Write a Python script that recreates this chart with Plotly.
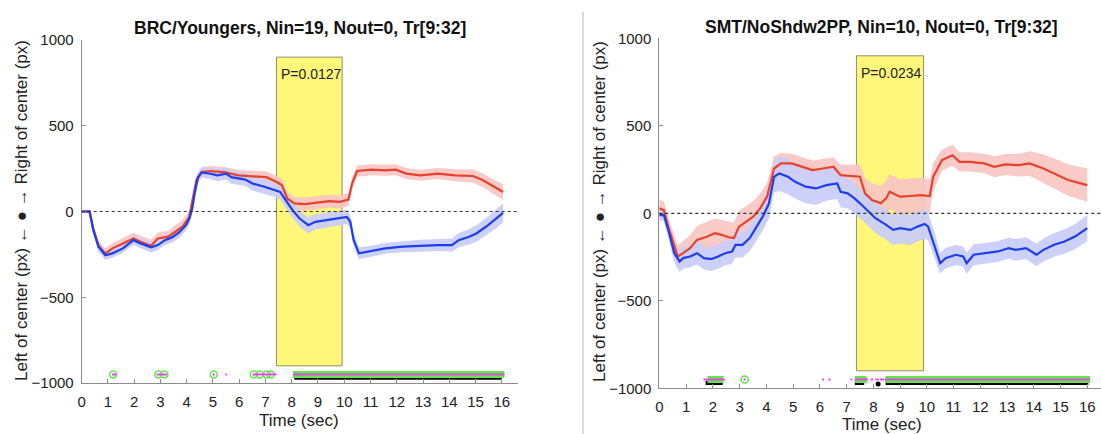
import plotly.graph_objects as go

# ------------------------------------------------------------------ data
# Left panel: BRC/Youngers
t_left_blue = [0, 0.3, 0.44, 0.64, 0.9, 1.17, 1.57, 1.97, 2.24, 2.64,
               2.9, 3.17, 3.44, 3.7, 3.97, 4.1, 4.21, 4.3, 4.43, 4.57,
               4.9, 5.17, 5.5, 5.7, 6.23, 6.5, 6.9, 7.3, 7.56, 7.77,
               8.03, 8.3, 8.63, 8.9, 9.3, 9.7, 10.1, 10.23, 10.36, 10.56,
               10.9, 11.56, 12.23, 12.9, 13.56, 14.1, 14.36, 14.76, 15.03, 15.4,
               15.8, 16.05]
v_left_blue = [0, 0, -108, -205, -255, -244, -215, -167, -186, -209,
               -196, -167, -151, -124, -80, -41, 17, 105, 200, 228,
               220, 211, 221, 200, 186, 163, 147, 128, 114, 66,
               8, -41, -80, -60, -50, -41, -31, -60, -167, -244,
               -234, -215, -205, -200, -196, -196, -167, -147, -128, -89,
               -41, -8]
e_left_blue = [8, 10, 25, 28, 28, 25, 25, 28, 28, 30,
               30, 28, 30, 32, 32, 32, 30, 30, 28, 28,
               32, 35, 35, 38, 38, 40, 40, 40, 42, 45,
               45, 48, 48, 45, 45, 45, 42, 40, 38, 35,
               32, 32, 32, 35, 35, 38, 42, 45, 48, 50,
               55, 55]

t_left_red = [0, 0.3, 0.44, 0.64, 0.9, 1.17, 1.57, 1.97, 2.24, 2.64,
              2.9, 3.3, 3.57, 3.84, 4.1, 4.23, 4.37, 4.57, 4.9, 5.43,
              5.97, 6.5, 7.03, 7.43, 7.63, 7.83, 8.1, 8.5, 8.9, 9.43,
              9.83, 10.16, 10.3, 10.49, 11.03, 11.56, 11.96, 12.36, 12.9, 13.56,
              14.23, 14.9, 15.29, 15.7, 16.05]
v_left_red = [0, 0, -100, -200, -245, -215, -186, -157, -176, -200,
              -157, -147, -118, -89, -31, 66, 182, 230, 236, 230,
              211, 205, 200, 172, 153, 76, 47, 43, 50, 60,
              56, 70, 163, 236, 244, 240, 244, 221, 211, 221,
              211, 207, 182, 143, 114]
e_left_red = [8, 10, 25, 30, 30, 30, 32, 35, 35, 35,
              35, 35, 38, 40, 38, 35, 32, 30, 30, 30,
              32, 32, 35, 35, 35, 38, 38, 38, 38, 38,
              38, 38, 35, 32, 32, 32, 32, 32, 32, 32,
              35, 38, 40, 42, 45]

# Right panel: SMT/NoShdw2PP
t_right_blue = [0, 0.17, 0.37, 0.56, 0.76, 0.89, 1.15, 1.41, 1.67, 1.94,
                2.2, 2.46, 2.72, 2.85, 3.11, 3.38, 3.64, 3.9, 4.1, 4.29,
                4.49, 4.81, 5.08, 5.47, 5.86, 6.25, 6.65, 6.78, 7.04, 7.3,
                7.5, 7.82, 8.08, 8.48, 8.74, 9.0, 9.39, 9.65, 9.92, 10.05,
                10.31, 10.5, 10.7, 11.09, 11.36, 11.49, 11.75, 12.27, 12.66, 13.06,
                13.32, 13.71, 14.1, 14.36, 14.76, 15.15, 15.54, 16.0]
v_right_blue = [-10, -10, -114, -228, -275, -256, -247, -228, -256, -262,
                -247, -228, -218, -180, -180, -142, -76, -10, 57, 209,
                228, 209, 180, 152, 142, 161, 171, 123, 114, 85,
                57, 9, -28, -66, -95, -85, -95, -76, -61, -76,
                -190, -285, -256, -237, -247, -285, -237, -228, -218, -199,
                -209, -199, -237, -209, -180, -161, -133, -85]
e_right_blue = [30, 35, 45, 55, 60, 60, 62, 65, 65, 68,
                70, 70, 70, 72, 72, 75, 78, 80, 85, 90,
                100, 100, 95, 95, 95, 90, 90, 90, 85, 85,
                85, 85, 85, 85, 88, 88, 88, 85, 85, 80,
                70, 60, 58, 58, 58, 60, 60, 60, 60, 60,
                62, 62, 65, 65, 68, 70, 72, 75]

t_right_red = [0, 0.17, 0.37, 0.56, 0.69, 0.89, 1.15, 1.41, 1.8, 2.07,
               2.33, 2.59, 2.79, 2.98, 3.24, 3.51, 3.77, 4.03, 4.29, 4.55,
               4.95, 5.34, 5.73, 6.12, 6.51, 6.78, 7.17, 7.5, 7.69, 7.95,
               8.28, 8.48, 8.61, 9.0, 9.39, 9.79, 10.11, 10.24, 10.57, 10.96,
               11.22, 11.62, 12.14, 12.53, 12.93, 13.45, 13.84, 14.36, 14.76, 15.28,
               16.0]
v_right_red = [28, 19, -95, -190, -247, -228, -199, -152, -133, -114,
               -123, -137, -142, -76, -47, -19, 28, 95, 256, 285,
               285, 266, 247, 256, 266, 218, 213, 209, 114, 76,
               57, 85, 123, 95, 99, 104, 99, 209, 304, 332,
               294, 294, 285, 266, 279, 275, 285, 256, 228, 190,
               161]
e_right_red = [50, 50, 55, 60, 65, 70, 75, 80, 85, 85,
               85, 90, 90, 90, 90, 88, 85, 80, 70, 60,
               55, 55, 55, 55, 55, 60, 65, 70, 85, 95,
               100, 100, 100, 100, 100, 100, 95, 80, 60, 60,
               55, 55, 55, 60, 60, 65, 70, 80, 85, 90,
               95]

# significance markers (seconds)
left_green_circles = [1.2, 2.92, 3.15, 5.03, 6.55, 6.78, 7.05, 7.2]
left_green_runs = [(8.05, 16.1)]
left_magenta_runs = [(1.15, 1.32), (2.85, 3.25), (4.98, 5.07), (5.47, 5.53),
                     (6.5, 7.42), (8.05, 16.1)]
left_black_runs = [(8.1, 16.0)]
left_black_dots = []

right_green_circles = [3.19]
right_green_runs = [(1.8, 2.4), (7.32, 7.75), (8.45, 16.1)]
right_magenta_runs = [(1.65, 2.45), (3.15, 3.23), (6.09, 6.16), (6.33, 6.4),
                      (7.15, 7.21), (7.3, 7.8), (7.9, 8.0), (8.08, 8.2),
                      (8.25, 8.4), (8.43, 16.1)]
right_black_runs = [(1.73, 2.37), (7.31, 7.66), (8.46, 16.04)]
right_black_dots = [8.18]

# stimulus windows and statistics
left_window = (7.42, 9.92)
right_window = (7.37, 9.88)
window_y = (-900, 900)
left_p = "P=0.0127"
right_p = "P=0.0234"
left_title = "BRC/Youngers, Nin=19, Nout=0, Tr[9:32]"
right_title = "SMT/NoShdw2PP, Nin=10, Nout=0, Tr[9:32]"
x_ticks = list(range(0, 17))
y_ticks = [-1000, -500, 0, 500, 1000]
marker_level = -950
black_level = -970

# ------------------------------------------------------------------ style
RED = "#E8412C"
BLUE = "#1D3DF0"
RED_BAND = "#F7C5C3"
BLUE_BAND = "#C9CDF9"
GREEN = "#5EE84A"
MAGENTA = "#F040F0"
FONT = "Liberation Sans, Arial, Helvetica, sans-serif"

W, H = 1101, 434

fig = go.Figure()


def band(t, v, e, color, xa, ya):
    xs = list(t) + list(t)[::-1]
    ys = [a + b for a, b in zip(v, e)] + [a - b for a, b in zip(v, e)][::-1]
    fig.add_trace(go.Scatter(x=xs, y=ys, fill="toself", fillcolor=color,
                             line=dict(width=0), mode="lines", hoverinfo="skip",
                             opacity=0.92, xaxis=xa, yaxis=ya))


def line(t, v, color, xa, ya):
    fig.add_trace(go.Scatter(x=t, y=v, mode="lines",
                             line=dict(color=color, width=2.2),
                             xaxis=xa, yaxis=ya))


def runs(rs, level, color, width, xa, ya):
    xs, ys = [], []
    for a, b in rs:
        xs += [a, b, None]
        ys += [level, level, None]
    if xs:
        fig.add_trace(go.Scatter(x=xs, y=ys, mode="lines",
                                 line=dict(color=color, width=width),
                                 xaxis=xa, yaxis=ya))


def panel(tb, vb, eb, tr, vr, er, circles, gruns, mruns, bruns, bdots, xa, ya):
    band(tr, vr, er, RED_BAND, xa, ya)
    band(tb, vb, eb, BLUE_BAND, xa, ya)
    line(tr, vr, RED, xa, ya)
    line(tb, vb, BLUE, xa, ya)
    runs(bruns, black_level, "#000000", 4, xa, ya)
    if bdots:
        fig.add_trace(go.Scatter(x=bdots, y=[black_level - 5] * len(bdots), mode="markers",
                                 marker=dict(color="#000000", size=5),
                                 xaxis=xa, yaxis=ya))
    runs(gruns, marker_level, GREEN, 7, xa, ya)
    if circles:
        fig.add_trace(go.Scatter(x=circles, y=[marker_level] * len(circles), mode="markers",
                                 marker=dict(symbol="circle-open", size=7, color=GREEN,
                                             line=dict(width=1.5, color=GREEN)),
                                 xaxis=xa, yaxis=ya))
    runs(mruns, marker_level, MAGENTA, 2, xa, ya)


panel(t_left_blue, v_left_blue, e_left_blue, t_left_red, v_left_red, e_left_red,
      left_green_circles, left_green_runs, left_magenta_runs, left_black_runs,
      left_black_dots, "x", "y")
panel(t_right_blue, v_right_blue, e_right_blue, t_right_red, v_right_red, e_right_red,
      right_green_circles, right_green_runs, right_magenta_runs, right_black_runs,
      right_black_dots, "x2", "y2")

# geometry in pixels
L_x0, L_x1, L_ytop, L_ybot = 81.7, 518.3, 40.0, 383.0
R_x0, R_ytop, R_ybot = 659.3, 38.3, 388.3
sec_px_R = 26.75

axis_common = dict(showline=True, linecolor="#8c8c8c", linewidth=1, ticks="inside",
                   ticklen=4, tickcolor="#8c8c8c", showgrid=False, zeroline=False,
                   tickfont=dict(family=FONT, size=15, color="#222222"), mirror=False,
                   automargin=False)

fig.update_layout(
    template="none",
    width=W, height=H, margin=dict(l=0, r=0, t=0, b=0, pad=0), autosize=False,
    paper_bgcolor="white", plot_bgcolor="white", showlegend=False,
    font=dict(family=FONT),
    xaxis=dict(domain=[L_x0 / W, L_x1 / W], range=[0, 16.63], tickvals=x_ticks,
               anchor="y", ticklabelstandoff=5, **axis_common),
    yaxis=dict(domain=[1 - L_ybot / H, 1 - L_ytop / H], range=[-1000, 1000],
               tickvals=y_ticks, anchor="x", ticklabelstandoff=4, **axis_common),
    xaxis2=dict(domain=[R_x0 / W, 1.0], range=[0, (W - R_x0) / sec_px_R], tickvals=x_ticks,
                anchor="y2", ticklabelstandoff=5, **axis_common),
    yaxis2=dict(domain=[1 - R_ybot / H, 1 - R_ytop / H], range=[-1000, 1000],
                tickvals=y_ticks, anchor="x2", ticklabelstandoff=4, **axis_common),
)

shapes = []
for (w0, w1), xr, yr in [(left_window, "x", "y"), (right_window, "x2", "y2")]:
    shapes.append(dict(type="rect", xref=xr, yref=yr, x0=w0, x1=w1,
                       y0=window_y[0], y1=window_y[1], fillcolor="#FFF77A",
                       line=dict(color="#8f8f6a", width=1), layer="below"))
    shapes.append(dict(type="line", xref=xr + " domain", yref=yr, x0=0, x1=1, y0=0, y1=0,
                       line=dict(color="#333333", width=1.2, dash="dot"), layer="above"))
# panel separator
shapes.append(dict(type="line", xref="paper", yref="paper", x0=583 / W, x1=583 / W,
                   y0=0, y1=1 - 12 / H, line=dict(color="#b5b5b5", width=1)))
fig.update_layout(shapes=shapes)

TXT = dict(showarrow=False, xanchor="center", yanchor="middle")
ann = []
ann.append(dict(text=f"<b>{left_title}</b>", xref="paper", yref="paper",
                x=(L_x0 + L_x1) / 2 / W, y=1 - 28 / H,
                font=dict(size=17.5, color="#111111", family=FONT), **TXT))
ann.append(dict(text=f"<b>{right_title}</b>", xref="paper", yref="paper",
                x=881.5 / W, y=1 - 27 / H,
                font=dict(size=17.5, color="#111111", family=FONT), **TXT))
ann.append(dict(text=left_p, xref="x", yref="y", x=left_window[0], y=800,
                xanchor="left", yanchor="middle", xshift=2, showarrow=False,
                font=dict(size=14, color="#222222", family=FONT)))
ann.append(dict(text=right_p, xref="x2", yref="y2", x=right_window[0], y=800,
                xanchor="left", yanchor="middle", xshift=3, showarrow=False,
                font=dict(size=14, color="#222222", family=FONT)))
ytitle = "Left of center (px) \u2190 \u25cf \u2192 Right of center (px)"
ann.append(dict(text=ytitle, xref="paper", yref="paper", x=22 / W, y=1 - 211 / H,
                textangle=-90, font=dict(size=17, color="#222222", family=FONT), **TXT))
ann.append(dict(text=ytitle, xref="paper", yref="paper", x=599 / W, y=1 - 212 / H,
                textangle=-90, font=dict(size=17, color="#222222", family=FONT), **TXT))
ann.append(dict(text="Time (sec)", xref="paper", yref="paper", x=299 / W, y=1 - 420 / H,
                font=dict(size=17, color="#222222", family=FONT), **TXT))
ann.append(dict(text="Time (sec)", xref="paper", yref="paper", x=881.5 / W, y=1 - 424 / H,
                font=dict(size=17, color="#222222", family=FONT), **TXT))
fig.update_layout(annotations=ann)

fig.write_html("out.html",
               config={"displayModeBar": False},
               post_script="document.body.style.margin='0px';"
                           "document.body.style.overflow='hidden';")
